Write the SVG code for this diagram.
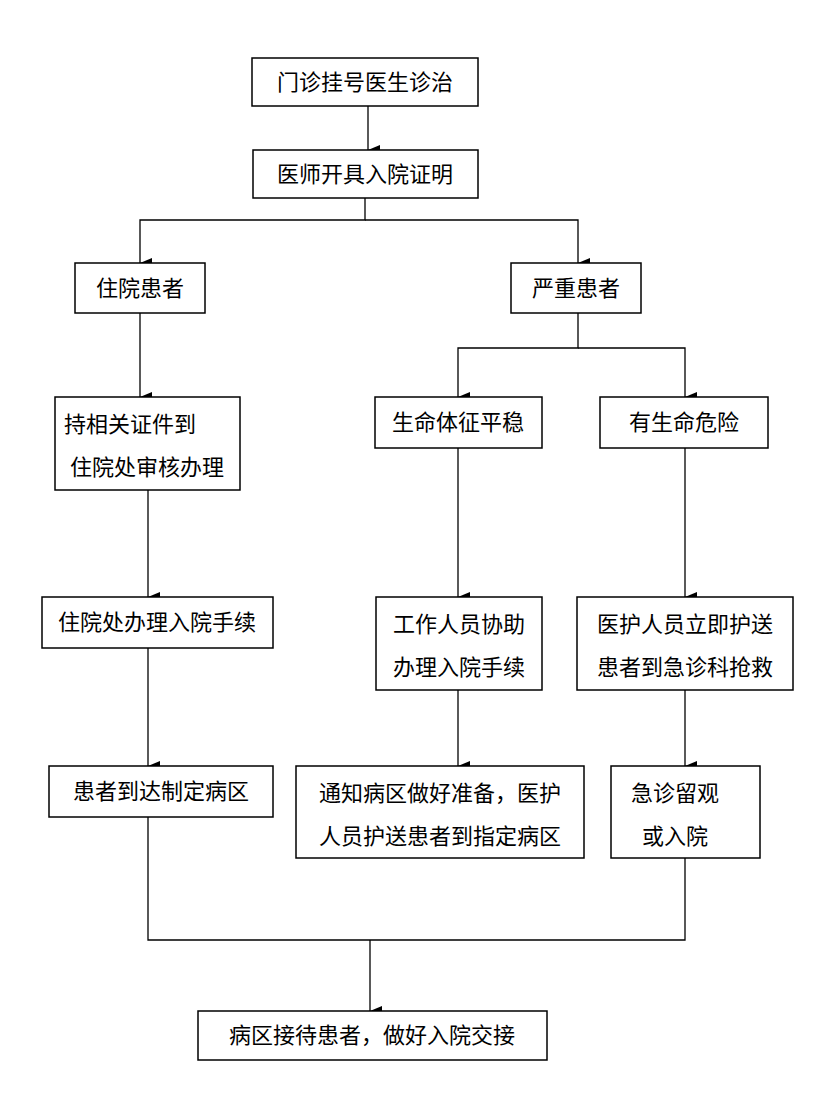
<svg xmlns="http://www.w3.org/2000/svg" width="832" height="1108" viewBox="0 0 832 1108">
<style>
.b{fill:#fff;stroke:#000;stroke-width:1.5}
text{font-family:"Noto Sans CJK SC","Noto Sans",sans-serif;font-size:22px;fill:#000;text-anchor:middle}
.c{fill:none;stroke:#000;stroke-width:1.3}
</style>
<defs><marker id="a" markerWidth="10" markerHeight="12" refX="5" refY="12" orient="auto" markerUnits="userSpaceOnUse"><path d="M0,0 L5,12 L10,0 Z" fill="#000"/></marker></defs>
<rect width="832" height="1108" fill="#fff"/>
<g id="connectors">
<path class="c" d="M368,106 V150" marker-end="url(#a)"/>
<path class="c" d="M365,198 V220 H140 V263" marker-end="url(#a)"/>
<path class="c" d="M365,220 H578 V263" marker-end="url(#a)"/>
<path class="c" d="M140,313 V397" marker-end="url(#a)"/>
<path class="c" d="M578,313 V348 H458 V397" marker-end="url(#a)"/>
<path class="c" d="M578,348 H685 V397" marker-end="url(#a)"/>
<path class="c" d="M148,490 V597" marker-end="url(#a)"/>
<path class="c" d="M458,448 V597" marker-end="url(#a)"/>
<path class="c" d="M685,448 V597" marker-end="url(#a)"/>
<path class="c" d="M148,648 V766" marker-end="url(#a)"/>
<path class="c" d="M458,690 V766" marker-end="url(#a)"/>
<path class="c" d="M685,690 V766" marker-end="url(#a)"/>
<path class="c" d="M148,817 V940 H685 V858"/>
<path class="c" d="M370,940 V1011" marker-end="url(#a)"/>
</g>
<g id="n1"><rect class="b" x="252" y="58" width="226" height="48"/><text x="365" y="90">门诊挂号医生诊治</text></g>
<g id="n2"><rect class="b" x="253" y="150" width="225" height="48"/><text x="365" y="182">医师开具入院证明</text></g>
<g id="n3"><rect class="b" x="75" y="263" width="130" height="50"/><text x="140" y="296">住院患者</text></g>
<g id="n4"><rect class="b" x="511" y="263" width="130" height="50"/><text x="576" y="296">严重患者</text></g>
<g id="n5"><rect class="b" x="55" y="397" width="185" height="93"/><text x="130" y="432">持相关证件到</text><text x="147" y="475">住院处审核办理</text></g>
<g id="n6"><rect class="b" x="375" y="397" width="167" height="51"/><text x="458" y="430">生命体征平稳</text></g>
<g id="n7"><rect class="b" x="600" y="397" width="168" height="51"/><text x="684" y="430">有生命危险</text></g>
<g id="n8"><rect class="b" x="42" y="597" width="231" height="51"/><text x="157" y="630">住院处办理入院手续</text></g>
<g id="n9"><rect class="b" x="376" y="597" width="166" height="93"/><text x="459" y="632">工作人员协助</text><text x="459" y="675">办理入院手续</text></g>
<g id="n10"><rect class="b" x="577" y="597" width="216" height="93"/><text x="685" y="632">医护人员立即护送</text><text x="685" y="675">患者到急诊科抢救</text></g>
<g id="n11"><rect class="b" x="49" y="766" width="224" height="51"/><text x="161" y="799">患者到达制定病区</text></g>
<g id="n12"><rect class="b" x="296" y="766" width="288" height="92"/><text x="440" y="801">通知病区做好准备，医护</text><text x="440" y="844">人员护送患者到指定病区</text></g>
<g id="n13"><rect class="b" x="611" y="766" width="149" height="92"/><text x="675" y="801">急诊留观</text><text x="675" y="844">或入院</text></g>
<g id="n14"><rect class="b" x="198" y="1011" width="349" height="49"/><text x="372" y="1043">病区接待患者，做好入院交接</text></g>
</svg>
